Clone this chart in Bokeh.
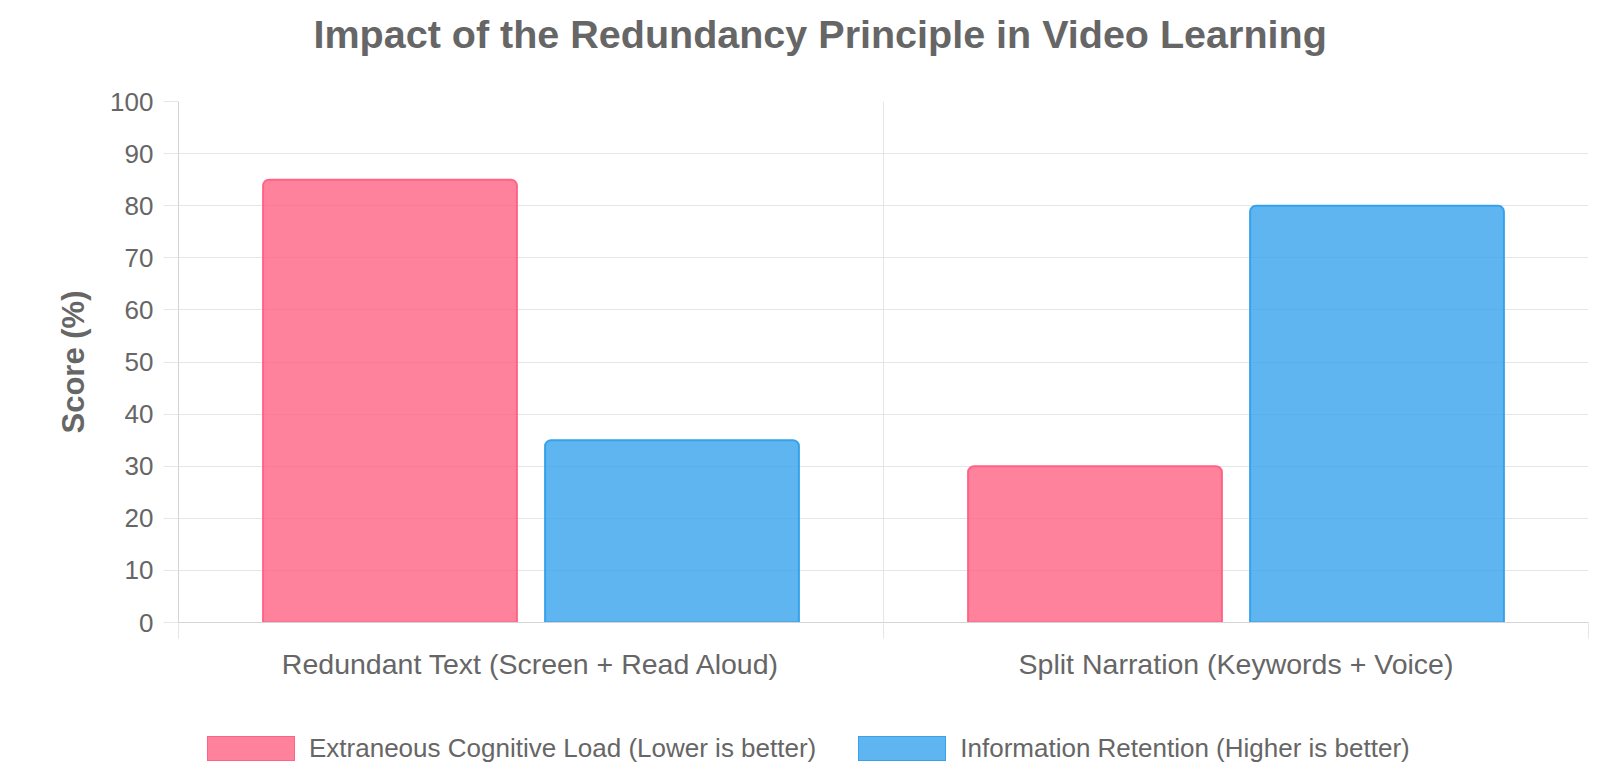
from bokeh.plotting import figure
from bokeh.layouts import column
from bokeh.models import (FactorRange, Range1d, LinearAxis, CategoricalAxis, FixedTicker,
                          ColumnDataSource, Grid, Div)
from bokeh.transform import dodge
from bokeh.embed import file_html
from bokeh.resources import INLINE

title_text = "Impact of the Redundancy Principle in Video Learning"
categories = ["Redundant Text (Screen + Read Aloud)", "Split Narration (Keywords + Voice)"]
series_names = ["Extraneous Cognitive Load (Lower is better)", "Information Retention (Higher is better)"]
cognitive_load = [85, 30]
retention = [35, 80]
y_ticks = [0, 10, 20, 30, 40, 50, 60, 70, 80, 90, 100]
boundaries = [0, 1, 2]
series_colors = ["#FF6384", "#36A2EB"]

FONT = "Liberation Sans"
TXT = "#666666"
GRID = "#e6e6e6"
AXIS = "#d4d4d4"

p = figure(width=1608, height=690,
           x_range=FactorRange(*categories), y_range=Range1d(0, 100),
           output_backend="svg", toolbar_location=None,
           x_axis_location=None, y_axis_location="left",
           min_border_left=178, min_border_right=20,
           min_border_top=101, min_border_bottom=68)
p.outline_line_color = None
p.background_fill_color = "white"

# title, lifted above the frame by an invisible spacer axis
p.title.text = title_text
p.title.text_font = FONT
p.title.text_font_size = "39.5px"
p.title.text_font_style = "bold"
p.title.text_color = TXT
p.title.align = "left"
p.title.offset = 135
p.title.standoff = 0
top_spacer = LinearAxis(ticker=FixedTicker(ticks=[1]), major_tick_out=46, major_tick_in=0,
                        axis_line_color=None, major_tick_line_color=None,
                        minor_tick_line_color=None, major_label_text_font_size="0px",
                        major_label_standoff=0, major_label_overrides={1: ""})
p.add_layout(top_spacer, "above")

# tick axis at category boundaries
tick_axis = LinearAxis(ticker=FixedTicker(ticks=boundaries),
                       major_tick_out=16, major_tick_in=0, major_tick_line_color=GRID,
                       minor_tick_line_color=None, axis_line_color=AXIS,
                       major_label_text_font_size="0px", major_label_standoff=0,
                       major_label_overrides={0: "", 1: "", 2: ""})
p.add_layout(tick_axis, "below")

cat_axis = CategoricalAxis(major_tick_line_color=None, minor_tick_line_color=None,
                           axis_line_color=None, major_label_standoff=3,
                           major_label_text_font=FONT, major_label_text_font_size="28.5px",
                           major_label_text_color=TXT)
p.add_layout(cat_axis, "below")

# y axis
ya = p.yaxis[0]
ya.ticker = FixedTicker(ticks=y_ticks)
ya.major_tick_out = 15
ya.major_tick_in = 0
ya.major_tick_line_color = GRID
ya.minor_tick_line_color = None
ya.axis_line_color = AXIS
ya.major_label_text_font = FONT
ya.major_label_text_font_size = "26px"
ya.major_label_text_color = TXT
ya.major_label_standoff = 10
ya.axis_label = "Score (%)"
ya.axis_label_text_font = FONT
ya.axis_label_text_font_size = "31px"
ya.axis_label_text_font_style = "bold"
ya.axis_label_text_color = TXT
ya.axis_label_standoff = 16

p.ygrid.ticker = FixedTicker(ticks=y_ticks)
p.ygrid.grid_line_color = GRID
for g in p.xgrid:
    g.visible = False
p.add_layout(Grid(dimension=0, ticker=FixedTicker(ticks=boundaries), grid_line_color=GRID))

src = ColumnDataSource(dict(cat=categories, load=cognitive_load, ret=retention))
p.vbar(x=dodge("cat", -0.2, range=p.x_range), top="load", width=0.36, source=src,
       fill_color=series_colors[0], fill_alpha=0.8, line_color=series_colors[0], line_width=2,
       border_radius=(6, 6, 0, 0))
p.vbar(x=dodge("cat", 0.2, range=p.x_range), top="ret", width=0.36, source=src,
       fill_color=series_colors[1], fill_alpha=0.8, line_color=series_colors[1], line_width=2,
       border_radius=(6, 6, 0, 0))

# legend below the chart, as HTML
items = []
for name, col in zip(series_names, series_colors):
    items.append(
        f'<span style="display:inline-block;width:88px;height:25px;background:{col}CC;'
        f'border:1px solid {col};margin-right:14px;"></span>'
        f'<span style="margin-right:42px;">{name}</span>')
legend_html = (f'<div style="display:flex;align-items:center;padding-top:40px;padding-left:207px;'
               f'font-family:\'{FONT}\',sans-serif;font-size:26px;color:{TXT};white-space:nowrap;">'
               + "".join(items) + '</div>')
legend_div = Div(text=legend_html, width=1608, height=72, margin=0)

layout = column(p, legend_div, spacing=0)
open("out.html", "w").write(file_html(layout, INLINE))
